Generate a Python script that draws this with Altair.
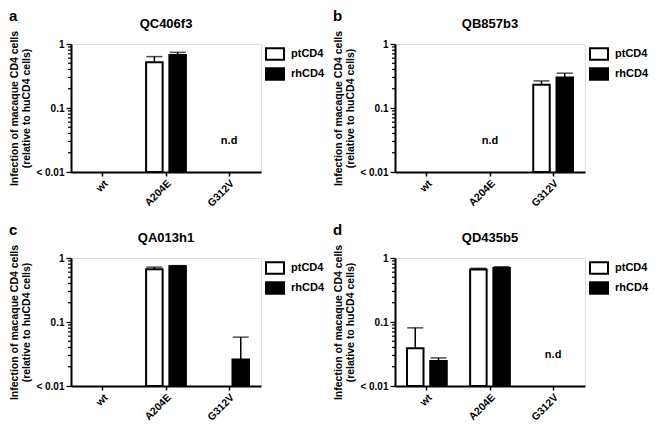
import altair as alt
import pandas as pd

categories = ["wt", "A204E", "G312V"]
groups = ["ptCD4", "rhCD4"]
panel_letters = ["a", "b", "c", "d"]
panel_names = ["QC406f3", "QB857b3", "QA013h1", "QD435b5"]

# mean values per panel (None = below detection)
pt_values = [
    [None, 0.52, None],
    [None, None, 0.23],
    [None, 0.67, None],
    [0.039, 0.66, None],
]
pt_errors = [
    [None, 0.115, None],
    [None, None, 0.035],
    [None, 0.05, None],
    [0.042, 0.03, None],
]
rh_values = [
    [None, 0.675, None],
    [None, None, 0.30],
    [None, 0.74, 0.026],
    [0.0245, 0.70, None],
]
rh_errors = [
    [None, 0.065, None],
    [None, None, 0.05],
    [None, 0.02, 0.032],
    [0.003, 0.03, None],
]
nd_category = ["G312V", "A204E", None, "G312V"]
nd_level = 0.03

y_major_ticks = [0.01, 0.1, 1]
y_minor_ticks = [0.02, 0.03, 0.04, 0.05, 0.06, 0.07, 0.08, 0.09,
                 0.2, 0.3, 0.4, 0.5, 0.6, 0.7, 0.8, 0.9]
y_label_expr = "datum.value == 0.01 ? '< 0.01' : datum.label"
y_title = ["Infection of macaque CD4 cells", "(relative to huCD4 cells)"]

FONT = "Liberation Sans"
W, H = 190, 128


def panel(i):
    rows = []
    for j, c in enumerate(categories):
        for g, vals, errs in (("ptCD4", pt_values, pt_errors),
                              ("rhCD4", rh_values, rh_errors)):
            v = vals[i][j]
            if v is None:
                continue
            rows.append({"cat": c, "group": g, "value": v,
                         "upper": v + errs[i][j]})
    df = pd.DataFrame(rows)

    xscale = alt.Scale(domain=categories, paddingInner=0.37, paddingOuter=0.19)
    yscale = alt.Scale(type="log", domain=[0.01, 1], nice=False)
    xaxis = alt.Axis(labelAngle=-45, labelFontSize=10.5, labelFontWeight="bold",
                     labelColor="black", tickSize=4, tickWidth=1.5,
                     tickColor="black", domainWidth=2, domainColor="black",
                     labelPadding=2, title=None)
    yaxis = alt.Axis(values=y_major_ticks, labelExpr=y_label_expr,
                     format="~g", labelOverlap=False,
                     tickSize=5, tickWidth=1.3, tickColor="black",
                     domainWidth=2, domainColor="black",
                     labelFontSize=10, labelFontWeight="bold", labelColor="black",
                     labelPadding=2, title=y_title, titleFontSize=10.5,
                     titleFontWeight="bold", titleColor="black",
                     titleLineHeight=12, titlePadding=4, grid=False)

    base = alt.Chart(df).encode(
        x=alt.X("cat:N", sort=categories, scale=xscale, axis=xaxis),
        xOffset=alt.XOffset("group:N",
                            scale=alt.Scale(domain=groups, paddingInner=0.29)),
    )
    bars = base.mark_bar(stroke="black", strokeWidth=2).encode(
        y=alt.Y("value:Q", scale=yscale, axis=yaxis),
        y2=alt.datum(0.01),
        color=alt.Color(
            "group:N",
            scale=alt.Scale(domain=groups, range=["white", "black"]),
            legend=alt.Legend(title=None,
                              symbolType="M-1,-0.65H1V0.65H-1Z",
                              symbolSize=324, symbolStrokeColor="black",
                              symbolStrokeWidth=2, labelFontSize=11,
                              labelFontWeight="bold", labelColor="black",
                              labelOffset=6, rowPadding=-2, offset=4,
                              orient="right"),
        ),
    )
    err = base.mark_rule(color="black", strokeWidth=1.5).encode(
        y=alt.Y("value:Q", scale=yscale), y2="upper:Q")
    cap = base.mark_tick(color="black", thickness=1.5, size=16,
                         orient="horizontal").encode(
        y=alt.Y("upper:Q", scale=yscale))

    minor_df = pd.DataFrame({"v": y_minor_ticks})
    minor = alt.Chart(minor_df).mark_rule(color="black", strokeWidth=1.2).encode(
        y=alt.Y("v:Q", scale=yscale),
        x=alt.value(-3), x2=alt.value(0))

    layers = [bars, err, cap, minor]
    if nd_category[i] is not None:
        nd_df = pd.DataFrame({"cat": [nd_category[i]], "y": [nd_level], "t": ["n.d"]})
        nd = alt.Chart(nd_df).mark_text(fontSize=11, fontWeight="bold",
                                        color="black", font=FONT).encode(
            x=alt.X("cat:N", scale=xscale),
            y=alt.Y("y:Q", scale=yscale),
            text="t:N",
        )
        layers.append(nd)

    name_df = pd.DataFrame({"t": [panel_names[i]]})
    name = alt.Chart(name_df).mark_text(
        fontSize=13, fontWeight="bold", color="black", align="center",
        baseline="middle", font=FONT).encode(
        text="t:N", x=alt.value(W / 2), y=alt.value(-20))
    letter_df = pd.DataFrame({"t": [panel_letters[i]]})
    letter = alt.Chart(letter_df).mark_text(
        fontSize=15, fontWeight="bold", color="black", align="left",
        baseline="top", font=FONT).encode(
        text="t:N", x=alt.value(-62), y=alt.value(-35))
    layers += [name, letter]

    return alt.layer(*layers).properties(width=W, height=H)


chart = alt.concat(
    panel(0), panel(1), panel(2), panel(3), columns=2,
    spacing={"row": 12, "column": 6},
).resolve_scale(color="independent").resolve_legend(
    color="independent"
).properties(padding=0, background="white").configure_view(
    stroke=None
).configure(font=FONT)

chart.save("out.html", embed_options={"renderer": "svg", "actions": False})
